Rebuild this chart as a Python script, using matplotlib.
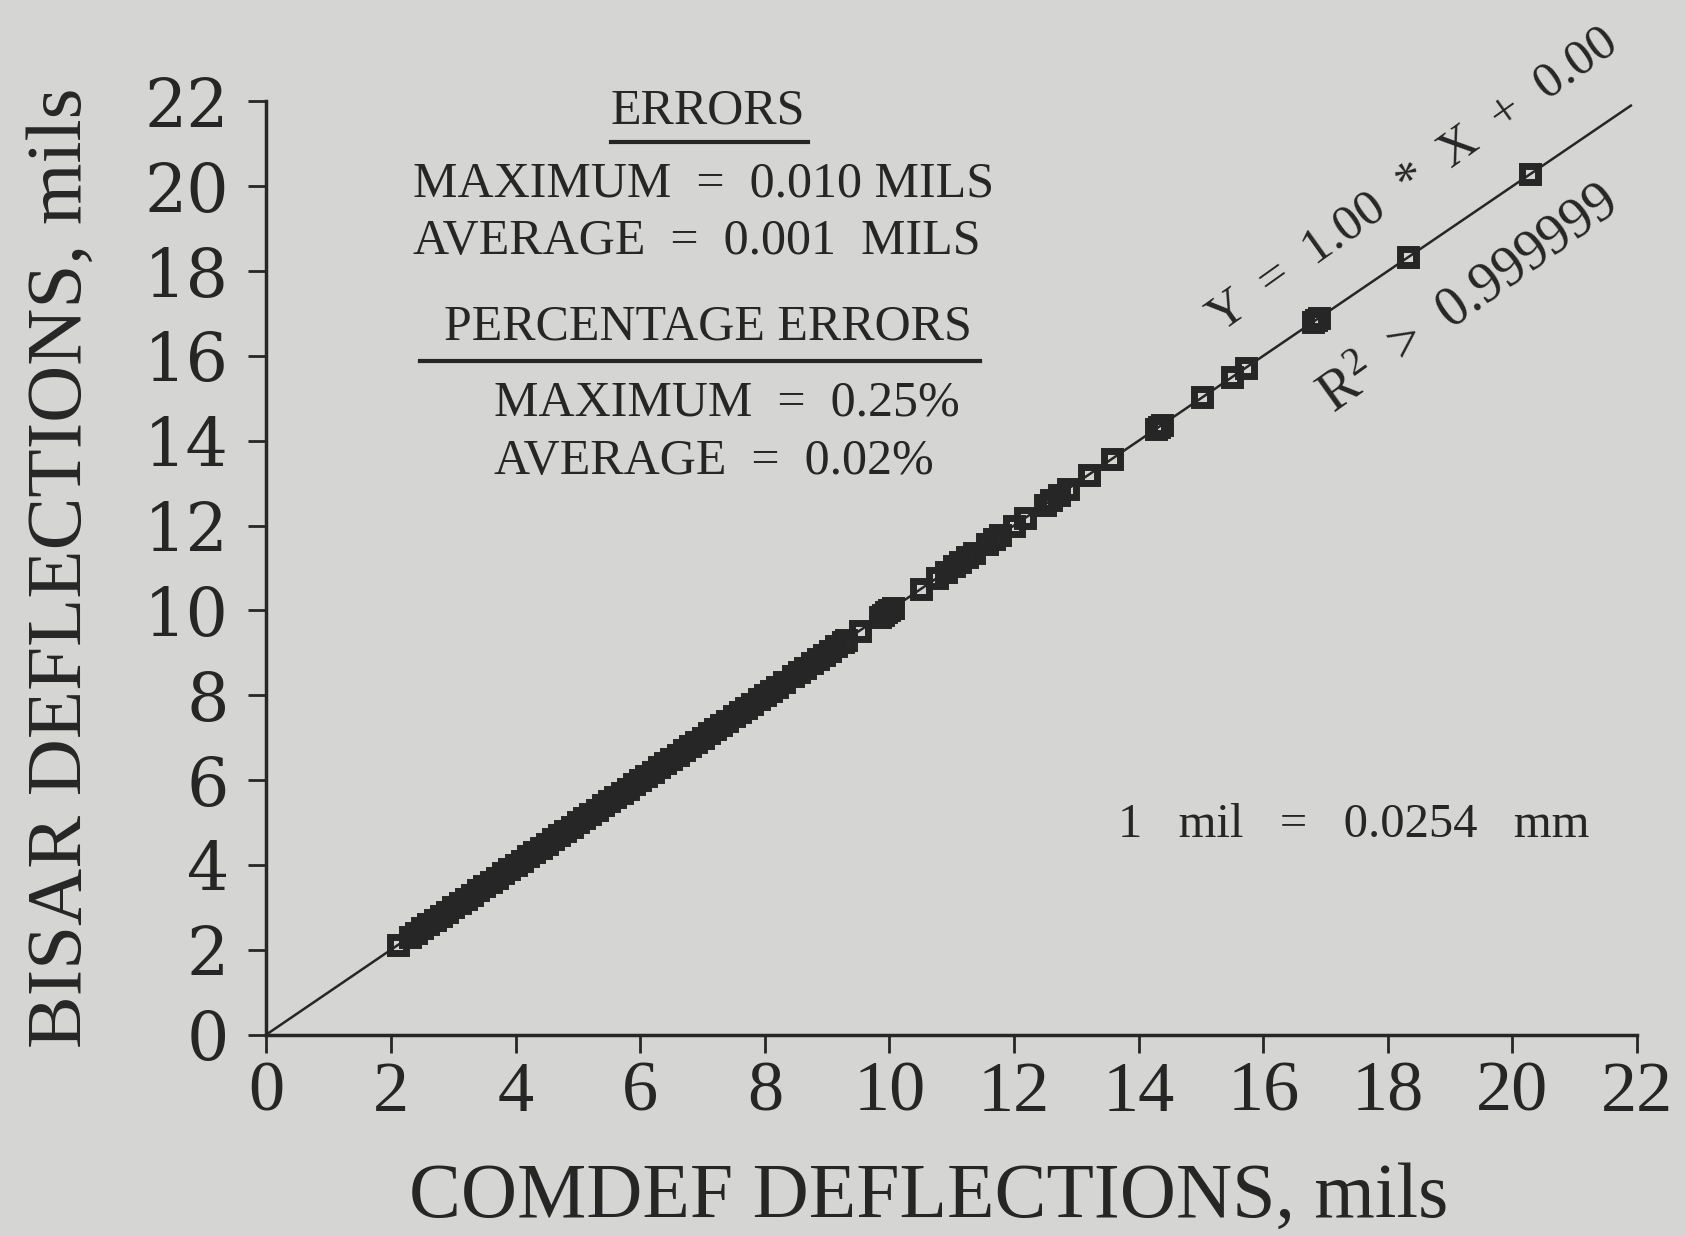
import matplotlib
matplotlib.use("Agg")
import matplotlib.pyplot as plt

plt.rcParams['font.family'] = ['Liberation Serif', 'DejaVu Serif']
plt.rcParams['mathtext.fontset'] = 'custom'
plt.rcParams['mathtext.rm'] = 'Liberation Serif'
plt.rcParams['mathtext.it'] = 'Liberation Serif'

# COMDEF vs BISAR deflections, mils (errors < 0.01 mil are not visible)
comdef = [2.12,
          2.3, 2.4, 2.5, 2.6, 2.7, 2.8, 2.9, 3.0, 3.1, 3.2, 3.3, 3.4, 3.5, 3.6, 3.7,
          3.8, 3.9, 4.0, 4.1, 4.2, 4.3, 4.4, 4.5, 4.6, 4.7, 4.8, 4.9, 5.0, 5.1, 5.2,
          5.3, 5.4, 5.5, 5.6, 5.7, 5.8, 5.9, 6.0, 6.1, 6.2, 6.3, 6.4, 6.5, 6.6, 6.7,
          6.8, 6.9, 7.0, 7.1, 7.2, 7.3, 7.4, 7.5, 7.6, 7.7, 7.8, 7.9, 8.0, 8.1, 8.2,
          8.3, 8.45, 8.55, 8.65, 8.75, 8.85, 8.95, 9.05, 9.15, 9.25, 9.3, 9.52,
          9.85, 9.9, 9.95, 10.0, 10.05, 10.5, 10.77, 10.9, 11.04, 11.14, 11.25,
          11.36, 11.57, 11.68, 11.78, 12.0, 12.18, 12.49, 12.6, 12.72, 12.86, 13.2,
          13.58, 14.28, 14.33, 14.38, 15.02, 15.5, 15.72, 16.8, 16.85, 16.9, 18.33,
          20.28]
bisar = list(comdef)

# regression line Y = 1.00 * X + 0.00
slope = 1.00
intercept = 0.00
fit_x = [0.0, 21.9]
fit_y = [slope * v + intercept for v in fit_x]

ticks = list(range(0, 23, 2))

bg = '#d5d5d3'
ink = '#262626'

fig = plt.figure(figsize=(16.86, 12.36), dpi=100, facecolor=bg)
ax = fig.add_axes([0.158, 0.163, 0.813, 0.755], facecolor=bg)

ax.plot(fit_x, fit_y, color=ink, lw=1.8, zorder=2)
ax.plot(comdef, bisar, ls='none', marker='s', ms=11, mfc='none', mec=ink, mew=5, zorder=3)

ax.set_xlim(0, 22)
ax.set_ylim(0, 22)
ax.set_xticks(ticks)
ax.set_yticks(ticks)
for s in ['top', 'right']:
    ax.spines[s].set_visible(False)
for s in ['left', 'bottom']:
    ax.spines[s].set_linewidth(2.5)
    ax.spines[s].set_color(ink)
ax.tick_params(direction='out', length=13, width=2, colors=ink)
ax.tick_params(axis='x', labelsize=52, pad=6)
ax.tick_params(axis='y', labelsize=48, pad=14)
for lab in ax.get_yticklabels():
    lab.set_fontfamily('DejaVu Serif')

ax.set_xlabel('COMDEF DEFLECTIONS, mils', fontsize=56, color=ink)
ax.xaxis.set_label_coords(0.483, -0.137)
ax.set_ylabel('BISAR DEFLECTIONS, mils', fontsize=57, color=ink, labelpad=33)

fs = 36
ax.text(7.09, 21.77, 'ERRORS', fontsize=fs, color=ink, ha='center', va='center')
ax.text(2.35, 20.04, 'MAXIMUM  =  0.010 MILS', fontsize=fs, color=ink, ha='left', va='center')
ax.text(2.35, 18.70, 'AVERAGE  =  0.001  MILS', fontsize=fs, color=ink, ha='left', va='center')
ax.text(7.09, 16.67, 'PERCENTAGE ERRORS', fontsize=fs, color=ink, ha='center', va='center')
ax.text(3.65, 14.88, 'MAXIMUM  =  0.25%', fontsize=fs, color=ink, ha='left', va='center')
ax.text(3.65, 13.51, 'AVERAGE  =  0.02%', fontsize=fs, color=ink, ha='left', va='center')
ax.plot([5.53, 8.69], [21.03, 21.03], color=ink, lw=3)
ax.plot([2.46, 11.46], [15.87, 15.87], color=ink, lw=3)

ax.text(17.45, 4.93, '1   mil   =   0.0254   mm', fontsize=35, color=ink, ha='center', va='center')

ax.text(18.40, 20.15, 'Y  =  1.00  *  X  +  0.00', fontsize=37, color=ink,
        ha='center', va='center', rotation=35.5, rotation_mode='anchor')
ax.text(19.31, 17.31, r'R$^{2}$  >  0.999999', fontsize=40, color=ink,
        ha='center', va='center', rotation=35.5, rotation_mode='anchor')

fig.savefig('out.png', dpi=100, facecolor=bg)
